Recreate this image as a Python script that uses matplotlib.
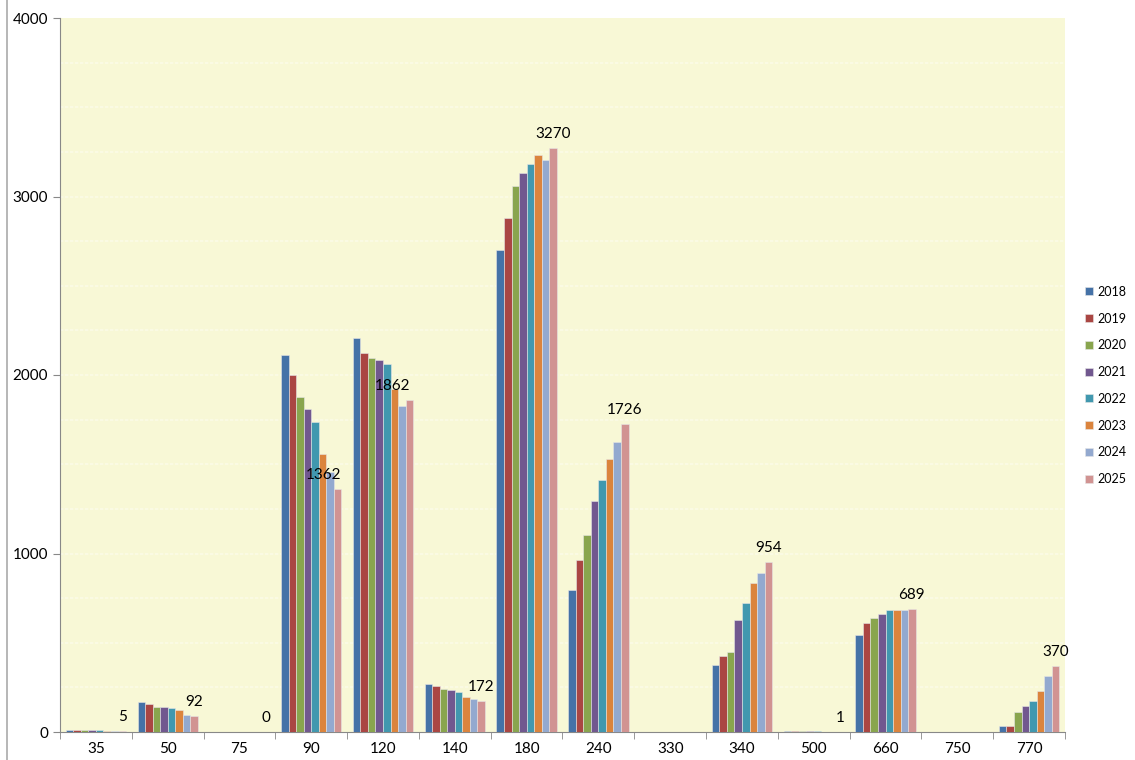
import matplotlib.pyplot as plt
import numpy as np
from matplotlib.lines import Line2D

# Категории (ось X) и годы
categories = ["35", "50", "75", "90", "120", "140", "180", "240", "330", "340", "500", "660", "750", "770"]
years = ["2018", "2019", "2020", "2021", "2022", "2023", "2024", "2025"]

# Значения по годам
v2018 = [12, 170, 0, 2112, 2207, 269, 2700, 796, 0, 375, 3, 541, 0, 36]
v2019 = [12, 157, 0, 2000, 2125, 258, 2878, 965, 0, 426, 3, 611, 0, 34]
v2020 = [11, 140, 0, 1877, 2093, 241, 3057, 1104, 0, 450, 3, 640, 0, 112]
v2021 = [11, 140, 0, 1810, 2084, 235, 3130, 1294, 0, 627, 3, 659, 0, 146]
v2022 = [11, 136, 0, 1737, 2060, 224, 3180, 1412, 0, 721, 3, 683, 0, 174]
v2023 = [7, 123, 0, 1557, 1920, 196, 3234, 1529, 0, 835, 2, 683, 0, 230]
v2024 = [6, 95, 0, 1458, 1826, 185, 3204, 1626, 0, 889, 2, 683, 0, 314]
v2025 = [5, 92, 0, 1362, 1862, 172, 3270, 1726, 0, 954, 1, 689, 0, 370]

# для каких категорий есть подпись значения 2025
labeled = ["35", "50", "75", "90", "120", "140", "180", "240", "340", "500", "660", "770"]

series = [v2018, v2019, v2020, v2021, v2022, v2023, v2024, v2025]
colors = ["#4572A7", "#AA4643", "#89A54E", "#71588F", "#4198AF", "#DB843D", "#93A9CF", "#D19392"]

plt.rcParams['font.family'] = ['Lato', 'DejaVu Sans']

fig = plt.figure(figsize=(11.35, 7.6), dpi=100)
ax = fig.add_axes([60 / 1135, 28 / 760, 1005 / 1135, 714 / 760])
ax.set_facecolor("#F8F8D6")

n = len(years)
x = np.arange(len(categories))
w = 0.105
for i, (vals, col, yr) in enumerate(zip(series, colors, years)):
    pos = x - w * (n - 1) / 2 + i * w
    ax.bar(pos, vals, width=w, color=col, edgecolor="#E6E6E6", linewidth=0.4, label=yr, zorder=3)

# подписи значений над столбцами 2025
last_pos = x - w * (n - 1) / 2 + (n - 1) * w
shift = {"90": -10, "120": -12}
for c, p, v in zip(categories, last_pos, v2025):
    if c not in labeled:
        continue
    ax.annotate(str(v), (p, v), xytext=(shift.get(c, 0), 5), textcoords="offset points",
                ha="center", va="bottom", fontsize=11, color="black", zorder=4)

ax.set_xlim(-0.5, len(categories) - 0.5)
ax.set_ylim(0, 4000)
ax.set_yticks([0, 1000, 2000, 3000, 4000])
ax.set_xticks(x)
ax.set_xticklabels(categories)
ax.set_xticks(np.arange(len(categories) + 1) - 0.5, minor=True)
ax.tick_params(axis="x", which="major", length=0, labelsize=11, pad=7)
ax.tick_params(axis="x", which="minor", length=5, color="#888888", direction="out")
ax.tick_params(axis="y", length=5, color="#888888", labelsize=11, direction="out")

# светлые полосы фона
for yv in np.arange(250, 4000, 250):
    ax.axhline(yv, color="#FBFBE6", linewidth=1.2, linestyle=(0, (2, 1)), zorder=1)

for s in ["top", "right"]:
    ax.spines[s].set_visible(False)
ax.spines["left"].set_color("#888888")
ax.spines["bottom"].set_color("#888888")

leg = ax.legend(loc="upper left", bbox_to_anchor=(1.015, 0.632), frameon=False,
                fontsize=9, handlelength=0.6, handleheight=0.6, handletextpad=0.4,
                labelspacing=1.18, borderaxespad=0)

# рамка слева
fig.add_artist(Line2D([7 / 1135, 7 / 1135], [0, 1], color="#AAAAAA", linewidth=1.2))

fig.savefig("out.png", dpi=100)
